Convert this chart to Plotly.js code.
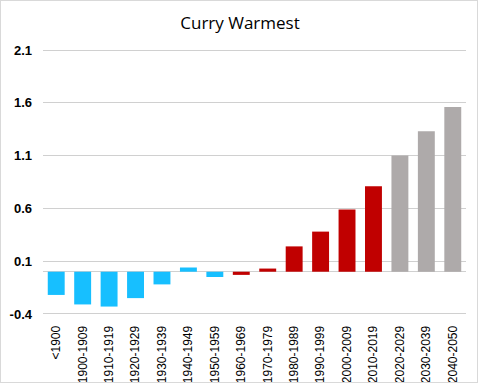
<!DOCTYPE html>
<html><head><meta charset="utf-8">
<script src="https://cdn.plot.ly/plotly-3.0.1.min.js"></script>
<style>
body{margin:0;padding:0;background:#fff;}
#wrap{position:relative;width:480px;height:384px;}
#chart{width:480px;height:384px;}
#frame{position:absolute;left:0;top:0;width:476px;height:381px;border:1px solid #D9D9D9;pointer-events:none;}
</style></head>
<body><div id="wrap"><div id="chart"></div><div id="frame"></div></div>
<script>
const categories = ["<1900","1900-1909","1910-1919","1920-1929","1930-1939","1940-1949","1950-1959","1960-1969","1970-1979","1980-1989","1990-1999","2000-2009","2010-2019","2020-2029","2030-2039","2040-2050"];
const values = [-0.22,-0.31,-0.33,-0.25,-0.12,0.04,-0.05,-0.03,0.03,0.24,0.38,0.59,0.81,1.10,1.33,1.56];
const groups = ["cool","cool","cool","cool","cool","cool","cool","warm","warm","warm","warm","warm","warm","proj","proj","proj"];
const groupColors = {cool:"#17BFFF", warm:"#C00000", proj:"#AEAAAA"};
const yTicks = [-0.4,0.1,0.6,1.1,1.6,2.1];

const trace = {
  type:"bar", x:categories, y:values,
  marker:{color:groups.map(g=>groupColors[g])},
  hoverinfo:"none"
};
const layout = {
  width:480, height:384,
  margin:{l:43,r:14,t:49,b:69},
  paper_bgcolor:"#fff", plot_bgcolor:"#fff",
  title:{text:"Curry Warmest", font:{family:"Open Sans, Liberation Sans, sans-serif", size:17, color:"#000"}, x:0.5, xanchor:"center", y:0.94, yanchor:"middle"},
  bargap:0.36,
  showlegend:false,
  xaxis:{type:"category", tickangle:-90, tickfont:{family:"Liberation Sans, sans-serif", size:12, color:"#000"}, showgrid:false, showline:false, ticks:"outside", ticklen:5, tickcolor:"rgba(0,0,0,0)"},
  yaxis:{range:[-0.41,2.11], tickvals:yTicks, ticktext:yTicks.map(v=>v.toFixed(1)), showgrid:true, gridcolor:"#D0D0D0", gridwidth:1,
         zeroline:true, zerolinecolor:"#D0D0D0", zerolinewidth:1, showline:false, ticks:"", ticklabelstandoff:10,
         tickfont:{family:"Liberation Sans, sans-serif", size:13, color:"#000", weight:"bold"}}
};
Plotly.newPlot("chart",[trace],layout,{staticPlot:true});
</script></body></html>
